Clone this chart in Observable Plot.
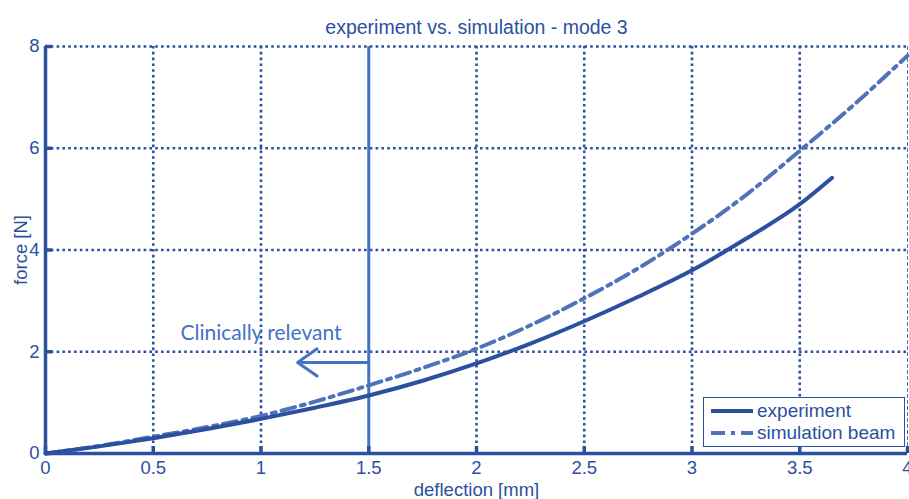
<!DOCTYPE html>
<html>
<head>
<meta charset="utf-8">
<script src="https://cdn.jsdelivr.net/npm/d3@7"></script>
<script src="https://cdn.jsdelivr.net/npm/@observablehq/plot@0.6"></script>
<style>
  html, body { margin: 0; padding: 0; background: #fff; }
  #wrap { position: relative; width: 909px; height: 499px; overflow: hidden; }
  #legend { position: absolute; left: 703px; top: 397px; width: 200px; height: 48px;
    border: 1.5px solid #2B50A0; background: #fff; font-family: "Liberation Sans", Arial, sans-serif;
    font-size: 19px; color: #2B50A0; }
  #legend .row { position: absolute; left: 7px; height: 22px; display: flex; align-items: center; }
  #legend svg { margin-right: 4px; }
</style>
</head>
<body>
<div id="wrap"></div>
<script>
// Data
const deflectionExp = [0, 0.25, 0.5, 0.75, 1.0, 1.25, 1.5, 1.75, 2.0, 2.25, 2.5, 2.75, 3.0, 3.25, 3.5, 3.65];
const forceExp      = [0, 0.14, 0.30, 0.48, 0.68, 0.90, 1.14, 1.43, 1.77, 2.16, 2.60, 3.08, 3.60, 4.22, 4.90, 5.42];
const deflectionSim = [0, 0.25, 0.5, 0.75, 1.0, 1.25, 1.5, 1.75, 2.0, 2.25, 2.5, 2.75, 3.0, 3.25, 3.5, 3.75, 4.0];
const forceSim      = [0, 0.15, 0.33, 0.52, 0.74, 1.02, 1.34, 1.68, 2.06, 2.52, 3.05, 3.64, 4.32, 5.08, 5.95, 6.85, 7.82];
const xTicks = [0, 0.5, 1, 1.5, 2, 2.5, 3, 3.5, 4];
const yTicks = [0, 2, 4, 6, 8];
const titleText = "experiment vs. simulation - mode 3";
const xLabel = "deflection [mm]";
const yLabel = "force [N]";
const seriesNames = ["experiment", "simulation beam"];
const relevantLimit = 1.5;
const annotationText = "Clinically relevant";
const annotationPos = {x: 1.0, y: 2.36};
const arrowSpec = {x1: 1.5, x2: 1.17, y: 1.79};

const dark = "#2B50A0";
const light = "#4472C4";
const simColor = "#4F72B8";

const exp = deflectionExp.map((d, i) => ({x: d, y: forceExp[i]}));
const sim = deflectionSim.map((d, i) => ({x: d, y: forceSim[i]}));

const chart = Plot.plot({
  width: 909,
  height: 499,
  marginLeft: 45,
  marginRight: 2,
  marginTop: 46,
  marginBottom: 46,
  style: {fontFamily: "'Liberation Sans', Arial, sans-serif", fontSize: "18px", color: dark, background: "#fff"},
  x: {type: "linear", domain: [0, 4]},
  y: {type: "linear", domain: [0, 8]},
  marks: [
    // dotted grid
    Plot.ruleX(xTicks.filter(d => d > 0 && d < 4 && d !== relevantLimit), {x: d => d, stroke: dark, strokeWidth: 2.6, strokeDasharray: "2.6,3.2"}),
    Plot.ruleY(yTicks.filter(d => d > 0), {y: d => d, stroke: dark, strokeWidth: 2.6, strokeDasharray: "2.6,3.2"}),
    // right boundary
    Plot.ruleX([4], {x: d => d, stroke: simColor, strokeWidth: 1, strokeDasharray: "4,2"}),
    // clinically relevant line
    Plot.ruleX([relevantLimit], {x: d => d, y1: 0, y2: 8, stroke: light, strokeWidth: 3}),
    Plot.arrow([arrowSpec], {x1: "x1", x2: "x2", y1: "y", y2: "y", stroke: light, strokeWidth: 3, headLength: 14, headAngle: 70}),
    Plot.text([annotationPos], {x: "x", y: "y", text: () => annotationText, fill: light, fontSize: 21, fontFamily: "Lato, 'Open Sans', sans-serif"}),
    // curves
    Plot.line(sim, {x: "x", y: "y", stroke: simColor, strokeWidth: 4, strokeDasharray: "14,6,4,6", curve: "monotone-x"}),
    Plot.line(exp, {x: "x", y: "y", stroke: dark, strokeWidth: 4, curve: "monotone-x"}),
    // inside ticks
    Plot.ruleX(xTicks, {x: d => d, y1: () => 0, y2: () => 0, insetTop: -7, stroke: dark, strokeWidth: 3.5}),
    Plot.ruleY(yTicks, {y: d => d, x1: () => 0, x2: () => 0, insetRight: -7, stroke: dark, strokeWidth: 3.5}),
    // axes
    Plot.axisX(xTicks, {tickSize: 0, tickPadding: 7, tickFormat: d => String(d), label: xLabel, labelAnchor: "center", labelArrow: "none", labelOffset: 42, color: dark, fontSize: 18.5}),
    Plot.axisY(yTicks, {tickSize: 0, tickPadding: 6, tickFormat: d => String(d), label: yLabel, labelAnchor: "center", labelArrow: "none", labelOffset: 32, color: dark, fontSize: 18.5}),
    Plot.ruleX([0], {x: d => d, stroke: dark, strokeWidth: 3.5}),
    Plot.ruleY([0], {y: d => d, stroke: dark, strokeWidth: 3.5}),
    // title
    Plot.text([titleText], {frameAnchor: "top", dy: -26, text: d => d, fill: dark, fontSize: 19.5})
  ]
});
const wrap = document.getElementById("wrap");
wrap.appendChild(chart);

const legend = document.createElement("div");
legend.id = "legend";
const dashes = [null, "14,6,4,6"];
const colors = [dark, simColor];
seriesNames.forEach((name, i) => {
  const row = document.createElement("div");
  row.className = "row";
  row.style.top = (2 + i * 22) + "px";
  const dash = dashes[i] ? `stroke-dasharray="${dashes[i]}"` : "";
  row.innerHTML = `<svg width="42" height="8"><line x1="0" y1="4" x2="42" y2="4" stroke="${colors[i]}" stroke-width="4" ${dash}/></svg><span>${name}</span>`;
  legend.appendChild(row);
});
wrap.appendChild(legend);
</script>
</body>
</html>
